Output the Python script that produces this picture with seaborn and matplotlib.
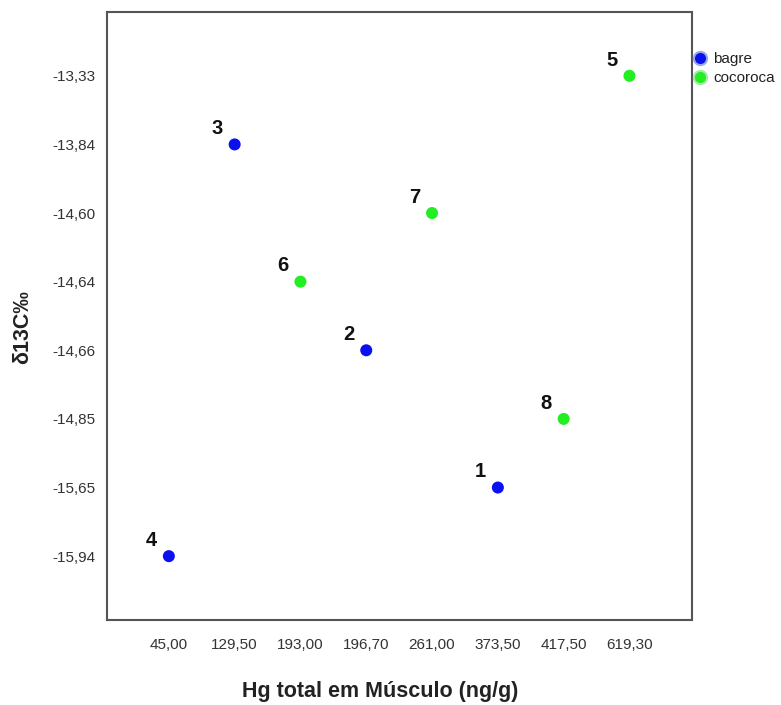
import matplotlib
matplotlib.use("Agg")
import matplotlib.pyplot as plt
import seaborn as sns
import pandas as pd
from matplotlib.lines import Line2D

x_cats = ["45,00", "129,50", "193,00", "196,70", "261,00", "373,50", "417,50", "619,30"]
y_cats = ["-15,94", "-15,65", "-14,85", "-14,66", "-14,64", "-14,60", "-13,84", "-13,33"]

ids = ["1", "2", "3", "4", "5", "6", "7", "8"]
species = ["bagre", "bagre", "bagre", "bagre", "cocoroca", "cocoroca", "cocoroca", "cocoroca"]
hg = ["373,50", "196,70", "129,50", "45,00", "619,30", "193,00", "261,00", "417,50"]
d13c = ["-15,65", "-14,66", "-13,84", "-15,94", "-13,33", "-14,64", "-14,60", "-14,85"]

df = pd.DataFrame({"id": ids, "Nome": species, "hg": hg, "d13c": d13c})
df["xpos"] = df["hg"].map({c: i for i, c in enumerate(x_cats)})
df["ypos"] = df["d13c"].map({c: i for i, c in enumerate(y_cats)})

sns.set_style("white")
plt.rcParams["font.family"] = ["Liberation Sans", "DejaVu Sans"]

palette = {"bagre": "#0a10f0", "cocoroca": "#22ee22"}

fig = plt.figure(figsize=(7.81, 7.05), dpi=100)
ax = fig.add_axes([0.137, 0.1206, 0.749, 0.8624])

sns.scatterplot(data=df, x="xpos", y="ypos", hue="Nome", palette=palette,
                s=75, edgecolor="none", legend=False, ax=ax, zorder=3)

for _, r in df.iterrows():
    ax.annotate(r["id"], (r["xpos"], r["ypos"]), xytext=(-8.6, 4.5),
                textcoords="offset points", ha="right", va="bottom",
                fontsize=14.5, fontweight="bold", color="#111111")

ax.set_xlim(-0.94, 7.95)
ax.set_ylim(-0.93, 7.93)
ax.set_xticks(range(len(x_cats)))
ax.set_xticklabels(x_cats)
ax.set_yticks(range(len(y_cats)))
ax.set_yticklabels(y_cats)
ax.tick_params(axis="both", direction="out", length=5.5, width=1.3, color="#444444",
               labelsize=11, labelcolor="#333333")
ax.tick_params(axis="x", pad=7.3)
ax.tick_params(axis="y", pad=2.8)
for sp in ax.spines.values():
    sp.set_visible(True)
    sp.set_color("#555555")
    sp.set_linewidth(1.5)

ax.set_xlabel("Hg total em Músculo (ng/g)", fontsize=15.5, fontweight="bold",
              color="#222222")
ax.xaxis.set_label_coords(0.4675, -0.1)
ax.set_ylabel("δ13C‰", fontsize=15.5, fontweight="bold", color="#222222")
ax.yaxis.set_label_coords(-0.1265, 0.482)

handles = [Line2D([0], [0], marker="o", linestyle="none", markersize=9.5,
                  markerfacecolor=palette[k], markeredgecolor="#9aa8e8" if k == "bagre" else "#a8e8a8",
                  markeredgewidth=1.5, label=k) for k in ["bagre", "cocoroca"]]
leg = ax.legend(handles=handles, loc="upper left", bbox_to_anchor=(1.0, 0.934),
                frameon=False, fontsize=11, handletextpad=0.4, borderaxespad=0.0,
                borderpad=0.0, labelspacing=0.35, handlelength=1.0)
for t in leg.get_texts():
    t.set_color("#222222")

fig.savefig("out.png", dpi=100)
